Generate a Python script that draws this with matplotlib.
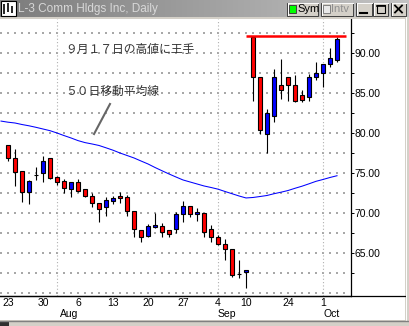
import numpy as np
import matplotlib.pyplot as plt
from matplotlib.patches import Rectangle
from matplotlib.colors import LinearSegmentedColormap
import matplotlib.transforms as mtransforms

# L-3 Comm Hldgs 日足 (2001/7/23 - 10/3)
dates = ['7/23', '7/24', '7/25', '7/26', '7/27', '7/30', '7/31', '8/1', '8/2', '8/3',
         '8/6', '8/7', '8/8', '8/9', '8/10', '8/13', '8/14', '8/15', '8/16', '8/17',
         '8/20', '8/21', '8/22', '8/23', '8/24', '8/27', '8/28', '8/29', '8/30', '8/31',
         '9/4', '9/5', '9/6', '9/7', '9/10', '9/17', '9/18', '9/19', '9/20', '9/21',
         '9/24', '9/25', '9/26', '9/27', '9/28', '10/1', '10/2', '10/3']
opens = [78.5, 76.9, 75.25, 72.6, 74.75, 75.0, 76.9, 74.5, 74.0, 73.0,
         73.9, 73.0, 72.1, 71.25, 70.75, 71.5, 72.1, 72.0, 70.25, 67.9,
         67.1, 68.25, 68.4, 67.9, 68.0, 69.9, 70.9, 69.9, 70.0, 68.0,
         67.0, 66.1, 65.5, 62.4, 62.6, 92.0, 87.0, 79.9, 82.1, 86.0,
         87.0, 86.0, 84.75, 84.5, 87.0, 87.5, 88.6, 89.1]
highs = [78.5, 78.0, 75.25, 74.1, 75.75, 77.1, 76.9, 74.6, 74.25, 73.9,
         74.25, 73.0, 72.5, 71.25, 72.0, 72.1, 72.6, 72.25, 70.25, 67.9,
         68.6, 70.0, 68.75, 67.9, 70.1, 71.5, 70.9, 70.6, 70.0, 68.5,
         67.25, 66.75, 65.5, 64.1, 62.9, 92.0, 87.0, 83.0, 88.0, 89.25,
         87.0, 87.2, 85.4, 87.4, 88.9, 88.6, 90.6, 92.0]
lows = [76.5, 73.4, 71.4, 71.1, 74.1, 73.9, 74.25, 73.5, 72.5, 72.0,
        72.6, 72.0, 70.75, 68.9, 69.6, 71.1, 71.25, 69.6, 67.0, 66.4,
        67.0, 68.1, 67.0, 67.0, 67.5, 68.9, 69.5, 69.0, 67.0, 66.4,
        66.0, 64.1, 62.0, 61.9, 60.6, 84.0, 79.9, 77.5, 81.4, 84.25,
        84.0, 83.9, 83.9, 84.0, 86.6, 85.75, 88.25, 88.9]
closes = [76.9, 75.1, 72.6, 74.0, 74.75, 76.5, 74.4, 73.9, 73.1, 73.9,
          72.75, 72.1, 71.25, 70.5, 71.6, 71.9, 71.9, 70.25, 68.0, 67.0,
          68.4, 68.5, 67.6, 67.4, 69.9, 70.9, 69.9, 70.1, 67.6, 67.0,
          66.1, 65.5, 62.25, 62.4, 62.9, 87.0, 80.4, 82.5, 87.0, 85.4,
          86.0, 84.0, 84.15, 87.0, 87.5, 88.6, 89.4, 91.75]
# 50日移動平均 (7/20 から 10/3)
ma50 = [81.49, 81.35, 81.25, 81.06, 80.9, 80.71, 80.5, 80.29, 80.0, 79.68,
        79.38, 79.05, 78.8, 78.63, 78.44, 78.15, 77.85, 77.5, 77.19, 76.88,
        76.5, 76.13, 75.69, 75.28, 74.88, 74.5, 74.13, 73.88, 73.63, 73.38,
        73.19, 72.98, 72.69, 72.41, 72.13, 71.88, 71.94, 72.06, 72.19, 72.41,
        72.6, 72.81, 73.09, 73.35, 73.65, 73.96, 74.19, 74.44, 74.66]

tick_dates = ['7/23', '7/30', '8/6', '8/13', '8/20', '8/27', '9/4', '9/10', '9/24', '10/1']
month_names = ['Aug', 'Sep', 'Oct']

W, H = 409, 326
fig = plt.figure(figsize=(W / 100, H / 100), dpi=100)
fig.patch.set_facecolor('white')

ax = fig.add_axes([0, 30 / H, 351 / W, 277 / H])
ax.set_xlim(-1.143, 49.0)
ax.set_ylim(59.625, 94.25)

x = np.arange(len(dates))

# グリッド (点線)
levels = np.arange(60, 93, 2.5)
gx, gy = np.meshgrid(np.arange(-1, 49), levels)
ax.scatter(gx.ravel(), gy.ravel(), s=0.55, marker='s', color='#a8a8a8', lw=0, zorder=0)
for m in range(len(month_names)):
    first = [i for i, d in enumerate(dates) if int(d.split('/')[0]) == 8 + m][0]
    ax.axvline(first, color='#b0b0b0', lw=0.8, ls=(0, (1, 2)), zorder=0.5)
    ax.text(first + (0.43 if m == 0 else 0), -0.066, month_names[m],
            transform=mtransforms.blended_transform_factory(ax.transData, ax.transAxes),
            ha='left', va='center', fontsize=7.5, family='Liberation Sans')

# 移動平均線
ax.plot(np.arange(-1, len(ma50) - 1), ma50, color='#0000ff', lw=0.75, zorder=2)

# ローソク足
o = np.array(opens); c = np.array(closes)
cols = np.where(c > o, '#0000ff', '#ff0000')
ax.vlines(x, lows, highs, color='black', lw=0.8, zorder=3)
ax.bar(x, np.abs(c - o), bottom=np.minimum(o, c), width=0.68, color=cols,
       edgecolor='black', linewidth=0.8, zorder=4)

# 9/17 高値ライン
i917 = dates.index('9/17')
ax.hlines(highs[i917] + 0.1, i917 - 1, 48.3, color='#ff0000', lw=1.8, zorder=5)

jp = ['Noto Sans CJK JP', 'DejaVu Sans']
ax.text(8.14, 90.5, '９月１７日の高値に王手', fontsize=8.5, family=jp, color='#333333',
        va='center', ha='left')
ax.text(8.14, 85.25, '５０日移動平均線', fontsize=8.5, family=jp, color='#333333',
        va='center', ha='left')
ax.plot([14.57, 12.29], [83.625, 79.875], color='#666666', lw=1.5, zorder=5)

# 軸
for s in ['left', 'top']:
    ax.spines[s].set_visible(False)
ax.spines['right'].set_linewidth(0.9)
ax.spines['bottom'].set_linewidth(0.9)
ax.yaxis.tick_right()
ax.set_yticks(np.arange(65, 91, 5))
ax.set_yticks(np.arange(62.5, 93, 5), minor=True)
ax.set_yticklabels(['%.2f' % v for v in np.arange(65, 91, 5)], fontsize=7.5,
                   family='Liberation Sans')
ax.tick_params(axis='y', which='both', direction='out', length=2, width=0.7, pad=0.5)
ax.set_xticks([dates.index(d) for d in tick_dates])
ax.set_xticklabels([d.split('/')[1] for d in tick_dates], fontsize=7.5,
                   family='Liberation Sans')
ax.tick_params(axis='x', length=0, pad=1.5)

# ウィンドウ枠
ov = fig.add_axes([0, 0, 1, 1], zorder=10)
ov.patch.set_alpha(0)
ov.axis('off')
grad = LinearSegmentedColormap.from_list('tb', ['#7c7c7c', '#c4c4c4'])
ov.imshow(np.linspace(0, 1, 256)[None, :], cmap=grad, extent=(0, W, 17, 0), aspect='auto')
ov.add_patch(Rectangle((0, 17), W, 2, color='#d4d0c8', lw=0))
ov.plot([0, 405], [296, 296], color='black', lw=0.9)
ov.add_patch(Rectangle((405, 17), 4, H, color='#d4d0c8', lw=0))
ov.plot([406, 406], [17, 320], color='white', lw=0.7)
ov.add_patch(Rectangle((0, 320), W, 6, color='#d4d0c8', lw=0))
ov.plot([0, W], [321, 321], color='#808080', lw=1)
ov.add_patch(Rectangle((0, 322), 9, 4, color='#303030', lw=0))

# アイコン
ov.add_patch(Rectangle((1, 1), 15, 15, facecolor='white', edgecolor='black', lw=0.8))
ov.vlines([4, 8, 12], [4, 3, 6], [14, 12, 13], color='black', lw=1.2)
ov.text(18, 9, 'L-3 Comm Hldgs Inc, Daily', color='#d8d8d8', fontsize=8.5,
        family='Liberation Sans', va='center', ha='left')


def button(x0, x1):
    ov.add_patch(Rectangle((x0, 2.5), x1 - x0, 13, facecolor='#d4d0c8',
                           edgecolor='#404040', lw=0.7))
    ov.plot([x0 + 0.5, x1 - 0.5], [3.3, 3.3], color='white', lw=0.7)
    ov.plot([x0 + 0.6, x0 + 0.6], [3.3, 15], color='white', lw=0.7)


button(287, 318)
ov.add_patch(Rectangle((289, 5), 7, 8, facecolor='#00ff00', edgecolor='#404040', lw=0.7))
ov.text(297, 9.3, 'Sym', fontsize=8, family='Liberation Sans', va='center')
button(321, 353)
ov.add_patch(Rectangle((323, 5), 7, 8, facecolor='#e8e8e8', edgecolor='#808080', lw=0.7))
ov.text(331, 9.3, 'Intv', fontsize=8, family='Liberation Sans', va='center', color='#909090')
button(356, 372)
ov.plot([360, 367], [12.5, 12.5], color='black', lw=1.5)
button(373, 388)
ov.add_patch(Rectangle((377, 5), 8, 8, facecolor='none', edgecolor='black', lw=0.8))
ov.plot([377, 385], [5.5, 5.5], color='black', lw=1.2)
button(391, 406)
ov.plot([395, 402], [5.5, 12.5], color='black', lw=1.3)
ov.plot([395, 402], [12.5, 5.5], color='black', lw=1.3)
ov.set_xlim(0, W)
ov.set_ylim(H, 0)

fig.savefig('out.png', dpi=100)
